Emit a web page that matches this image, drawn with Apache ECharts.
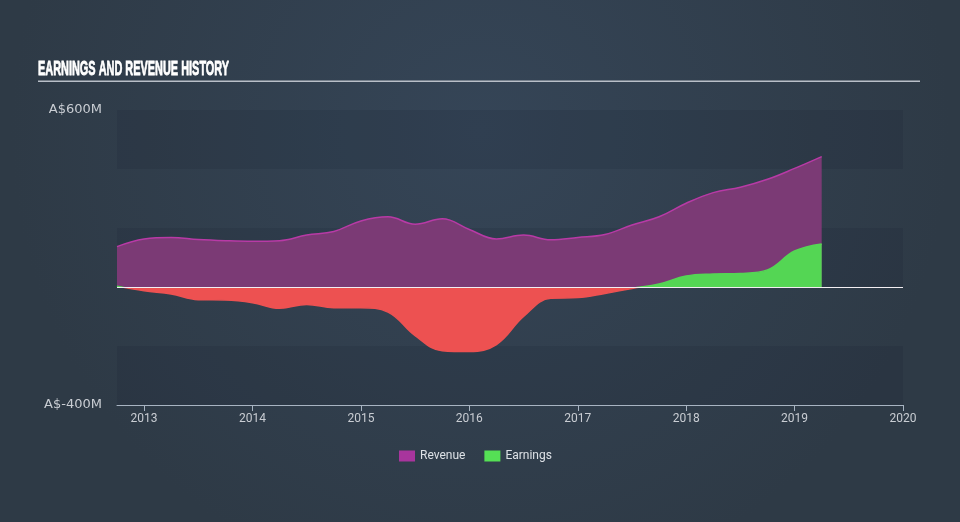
<!DOCTYPE html>
<html>
<head>
<meta charset="utf-8">
<script src="https://cdn.jsdelivr.net/npm/echarts@6/dist/echarts.min.js"></script>
<style>
html,body{margin:0;padding:0;background:#323f4e;}
#chart{width:960px;height:522px;}
</style>
</head>
<body>
<div id="chart"></div>
<script>
// Decimal-year period ends (quarterly)
const periods = [2012.75, 2013.0, 2013.25, 2013.5, 2013.75, 2014.0, 2014.25, 2014.5, 2014.75,
  2015.0, 2015.25, 2015.5, 2015.75, 2016.0, 2016.25, 2016.5, 2016.75, 2017.0, 2017.25,
  2017.5, 2017.75, 2018.0, 2018.25, 2018.5, 2018.75, 2019.0, 2019.25];
// Values in A$ millions
const revenue = [137, 163, 168, 161, 157, 155, 157, 176, 188, 224, 238, 213, 231, 195, 163,
  176, 160, 168, 178, 210, 238, 284, 320, 338, 365, 402, 442];
const earnings = [3, -13, -24, -43, -44, -53, -72, -59, -70, -70, -85, -165, -216, -219, -195,
  -100, -38, -36, -22, -5, 10, 37, 44, 46, 58, 122, 146];
const yearTicks = [2013, 2014, 2015, 2016, 2017, 2018, 2019, 2020];
const yLabels = {600: 'A$600M', '-400': 'A$-400M'};

const chart = echarts.init(document.getElementById('chart'), null, {renderer: 'canvas'});
const pair = (xs, ys) => xs.map((x, i) => [x, ys[i]]);

chart.setOption({
  backgroundColor: {
    type: 'radial', x: 0.5, y: 0.25, r: 0.9,
    colorStops: [{offset: 0, color: '#354557'}, {offset: 1, color: '#2e3a46'}]
  },
  animation: false,
  graphic: [
    {type: 'text', x: 38, y: 59, scaleX: 0.52,
     style: {text: 'EARNINGS AND REVENUE HISTORY', fill: '#ffffff', stroke: '#ffffff', lineWidth: 0.8,
             font: 'bold 21px "Liberation Sans"', textVerticalAlign: 'top'}},
    {type: 'rect', shape: {x: 38, y: 80.5, width: 882, height: 1.5},
     style: {fill: '#b9bfc8'}}
  ],
  grid: {left: 117, right: 57, top: 110, bottom: 117},
  legend: {
    bottom: 55, left: 394, icon: 'rect', itemWidth: 16, itemHeight: 11, itemGap: 19,
    textStyle: {color: '#dde1e6', fontSize: 12, fontFamily: 'Roboto'},
    data: [{name: 'Revenue', itemStyle: {color: '#a8359d'}},
           {name: 'Earnings', itemStyle: {color: '#55e055'}}]
  },
  xAxis: {
    type: 'value', min: 2012.75, max: 2020,
    axisLine: {onZero: false, lineStyle: {color: '#a8b4c2', width: 1}},
    axisTick: {length: 6, lineStyle: {color: '#a8b4c2'}, customValues: yearTicks},
    axisLabel: {color: '#c9cdd3', fontSize: 12, fontFamily: 'Roboto', margin: 8,
                customValues: yearTicks, formatter: v => String(Math.round(v))},
    splitLine: {show: false}
  },
  yAxis: {
    type: 'value', min: -400, max: 600, interval: 200,
    axisLine: {show: false}, axisTick: {show: false},
    axisLabel: {color: '#c9cdd3', fontSize: 13, fontFamily: 'DejaVu Sans', margin: 15,
                formatter: v => yLabels[v] || ''},
    splitLine: {show: false},
    splitArea: {show: true, areaStyle: {color: ['rgba(20,28,38,0.12)', 'rgba(0,0,0,0)']}}
  },
  visualMap: {
    show: false, seriesIndex: 1, dimension: 1,
    pieces: [{gte: -400, lt: 0, color: '#ed5151'}, {gte: 0, lte: 600, color: '#54d654'}]
  },
  series: [
    {
      name: 'Revenue', type: 'line', smooth: 0.4, symbol: 'none',
      data: pair(periods, revenue),
      itemStyle: {color: '#a8359d'},
      lineStyle: {color: '#b83aa6', width: 1.5},
      areaStyle: {color: '#7b3a75', opacity: 1},
      markLine: {silent: true, symbol: 'none', label: {show: false},
                 lineStyle: {color: '#f2eef2', width: 1, type: 'solid'},
                 data: [{yAxis: 0}]},
      z: 2
    },
    {
      name: 'Earnings', type: 'line', smooth: 0.4, symbol: 'none',
      data: pair(periods, earnings),
      itemStyle: {color: '#55e055'},
      lineStyle: {width: 1.5},
      areaStyle: {opacity: 1},
      z: 3
    }
  ]
});
</script>
</body>
</html>
